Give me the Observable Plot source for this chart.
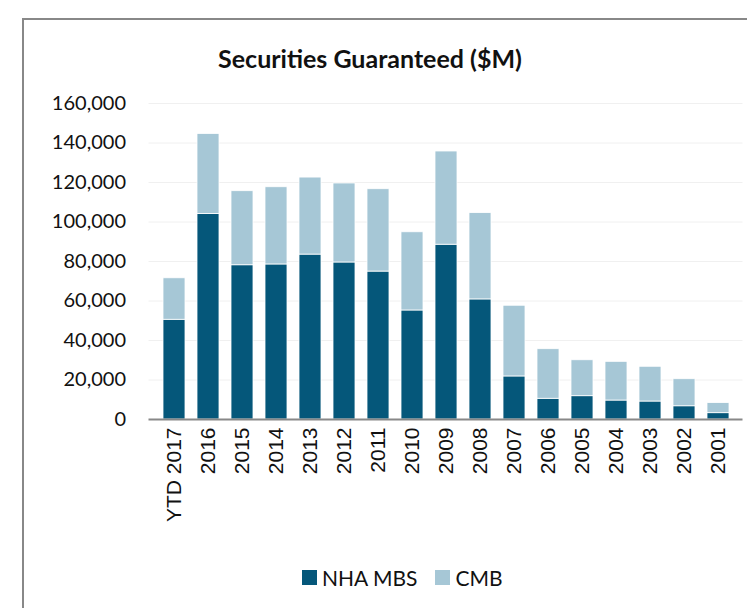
<!DOCTYPE html>
<html>
<head>
<meta charset="utf-8">
<script src="https://cdn.jsdelivr.net/npm/d3@7"></script>
<script src="https://cdn.jsdelivr.net/npm/@observablehq/plot@0.6"></script>
<style>
  html, body { margin: 0; padding: 0; background: #fff; }
  body { width: 747px; height: 608px; position: relative; overflow: hidden; font-family: Lato, "Open Sans", sans-serif; }
  #frame { position: absolute; left: 22px; top: 18px; width: 760px; height: 640px; border-left: 2px solid #888; border-top: 2px solid #888; box-sizing: border-box; }
  #title { position: absolute; left: 0; top: 0; width: 747px; height: 90px; }
  #title span { position: absolute; left: 370px; top: 58px; transform: translate(-50%, -50%); font-weight: bold; font-size: 25px; color: #111; white-space: nowrap; }
  #chart { position: absolute; left: 0; top: 90px; }
  #legend { position: absolute; left: 302px; top: 565px; display: flex; align-items: center; font-size: 21px; color: #111; white-space: nowrap; }
  .sw { display: inline-block; width: 15px; height: 15px; margin-right: 5px; }
</style>
</head>
<body>
<div id="frame"></div>
<div id="title"><span>Securities Guaranteed ($M)</span></div>
<div id="chart"></div>
<div id="legend">
  <span class="sw" style="background:#05577a"></span><span>NHA MBS</span>
  <span class="sw" style="background:#a6c7d6; margin-left:18px"></span><span>CMB</span>
</div>
<script>
const years = ["YTD 2017","2016","2015","2014","2013","2012","2011","2010","2009","2008","2007","2006","2005","2004","2003","2002","2001"];
const nhaMbs = [50500,104100,78100,78500,83500,79500,74900,55200,88500,60800,21800,10500,11800,9600,9100,6700,3200];
const cmb    = [21000,40500,37500,39100,39000,40000,41700,39600,47200,43700,35800,25100,18200,19600,17600,13700,5100];
const series = ["NHA MBS","CMB"];
const colors = ["#05577a","#a6c7d6"];
const yTicks = [0,20000,40000,60000,80000,100000,120000,140000,160000];

const data = [];
years.forEach((y, i) => {
  data.push({year: y, series: series[0], value: nhaMbs[i]});
  data.push({year: y, series: series[1], value: cmb[i]});
});

const fmt = d3.format(",");
const chart = Plot.plot({
  width: 747,
  height: 439,
  marginTop: 13,
  marginBottom: 110,
  marginLeft: 148.5,
  marginRight: 4.5,
  style: {fontFamily: "Lato, 'Open Sans', sans-serif", background: "transparent", overflow: "visible"},
  x: {domain: years, padding: 0.355, label: null},
  y: {domain: [0, 160000], ticks: yTicks, label: null},
  color: {domain: series, range: colors},
  marks: [
    Plot.gridY(yTicks.slice(1), {stroke: "#f0f0f0", strokeOpacity: 1, strokeWidth: 1}),
    Plot.barY(data, {x: "year", y: "value", fill: "series", stroke: "white", strokeWidth: 0.8, order: series}),
    Plot.ruleY([0], {stroke: "#888", strokeWidth: 2}),
    Plot.axisY(yTicks, {tickSize: 0, tickPadding: 23, tickFormat: fmt, fontSize: 20, fill: "#111"}),
    Plot.axisX({tickSize: 0, tickPadding: 8, tickRotate: -90, fontSize: 21, fill: "#111", fontFamily: "'Liberation Sans', Arial, sans-serif"})
  ]
});
document.getElementById("chart").appendChild(chart);
</script>
</body>
</html>
